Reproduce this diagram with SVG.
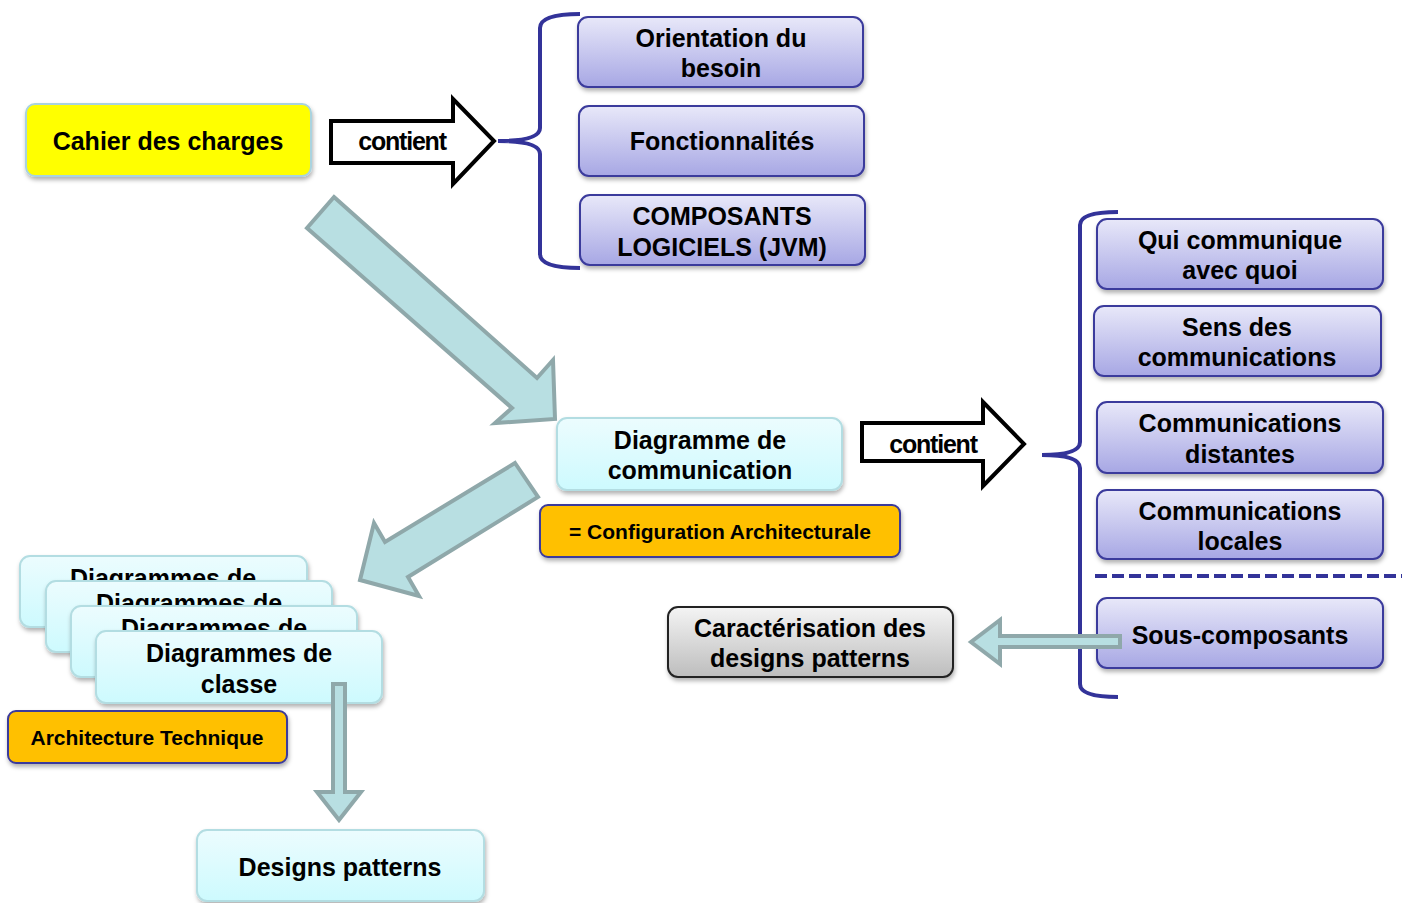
<svg xmlns="http://www.w3.org/2000/svg" width="1407" height="903" viewBox="0 0 1407 903">
<style>
text{font-family:"Liberation Sans",Arial,sans-serif;font-weight:bold;fill:#000;text-anchor:middle}
.t{font-size:25px}
.s{font-size:21px}
.c{font-size:25px;letter-spacing:-1.2px}
.purple{fill:url(#gPurple);stroke:#3a3a9c;stroke-width:2;filter:url(#sh)}
.cyan{fill:url(#gCyan);stroke:#b3dde2;stroke-width:2;filter:url(#sh)}
.orange{fill:#ffc000;stroke:#3a3a9c;stroke-width:2;filter:url(#sh)}
.big{fill:#b8dfe2;stroke:#8fa8aa;stroke-width:4;stroke-linejoin:miter}
.cont{fill:#fff;stroke:#000;stroke-width:4;stroke-linejoin:miter}
.brace{fill:none;stroke:#333399;stroke-width:4}
</style>
<defs>
<linearGradient id="gPurple" x1="0" y1="0" x2="0" y2="1">
<stop offset="0" stop-color="#e8e8f9"/><stop offset="1" stop-color="#a7a7e4"/>
</linearGradient>
<linearGradient id="gCyan" x1="0" y1="0" x2="0" y2="1">
<stop offset="0" stop-color="#ecfcfe"/><stop offset="1" stop-color="#cdfafe"/>
</linearGradient>
<linearGradient id="gGray" x1="0" y1="0" x2="0" y2="1">
<stop offset="0" stop-color="#f4f4f4"/><stop offset="1" stop-color="#bdbdbd"/>
</linearGradient>
<filter id="sh" x="-10%" y="-20%" width="120%" height="150%">
<feDropShadow dx="1" dy="3" stdDeviation="2" flood-color="#000" flood-opacity="0.3"/>
</filter>
</defs>

<g id="connectors">
<polygon class="big" points="334,197 537,378 553,360 555,419 495,423 512,408 307,228"/>
<polygon class="big" points="515,463 538,497 408,577 419,596 360,580 374,523 385,542"/>
<path class="brace" d="M580,14 Q540,14 540,28 V128 Q540,141 498,141 Q540,141 540,154 V254 Q540,268 580,268"/>
<path class="brace" d="M1118,212 Q1080,212 1080,225 V442 Q1080,455 1042,455 Q1080,455 1080,468 V684 Q1080,697 1118,697"/>
<line x1="1095" y1="576" x2="1402" y2="576" stroke="#333399" stroke-width="4" stroke-dasharray="12,5"/>
</g>

<g id="cahier">
<rect x="26" y="104" width="285" height="72" rx="9" fill="#ffff00" stroke="#a9d3df" stroke-width="2" filter="url(#sh)"/>
<text class="t" x="168" y="150">Cahier des charges</text>
</g>

<g id="contient1">
<polygon class="cont" points="331,121 453,121 453,99 494,141 453,184 453,163 331,163"/>
<text class="c" x="402" y="150">contient</text>
</g>

<g id="orientation">
<rect class="purple" x="578" y="17" width="285" height="70" rx="10"/>
<text class="t" x="721" y="47">Orientation du</text>
<text class="t" x="721" y="77">besoin</text>
</g>
<g id="fonctionnalites">
<rect class="purple" x="579" y="106" width="285" height="70" rx="10"/>
<text class="t" x="722" y="150">Fonctionnalités</text>
</g>
<g id="composants">
<rect class="purple" x="580" y="195" width="285" height="70" rx="10"/>
<text class="t" x="722" y="225">COMPOSANTS</text>
<text class="t" x="722" y="256">LOGICIELS (JVM)</text>
</g>

<g id="diagcomm">
<rect class="cyan" x="557" y="418" width="285" height="72" rx="10"/>
<text class="t" x="700" y="449">Diagramme de</text>
<text class="t" x="700" y="479">communication</text>
</g>
<g id="config">
<rect class="orange" x="540" y="505" width="360" height="52" rx="8"/>
<text class="s" x="720" y="539">= Configuration Architecturale</text>
</g>

<g id="contient2">
<polygon class="cont" points="862,423 983,423 983,402 1024,444 983,486 983,461 862,461"/>
<text class="c" x="933" y="453">contient</text>
</g>

<g id="qui">
<rect class="purple" x="1097" y="219" width="286" height="70" rx="10"/>
<text class="t" x="1240" y="249">Qui communique</text>
<text class="t" x="1240" y="279">avec quoi</text>
</g>
<g id="sens">
<rect class="purple" x="1094" y="306" width="287" height="70" rx="10"/>
<text class="t" x="1237" y="336">Sens des</text>
<text class="t" x="1237" y="366">communications</text>
</g>
<g id="distantes">
<rect class="purple" x="1097" y="402" width="286" height="71" rx="10"/>
<text class="t" x="1240" y="432">Communications</text>
<text class="t" x="1240" y="463">distantes</text>
</g>
<g id="locales">
<rect class="purple" x="1097" y="490" width="286" height="69" rx="10"/>
<text class="t" x="1240" y="520">Communications</text>
<text class="t" x="1240" y="550">locales</text>
</g>
<g id="sous">
<rect class="purple" x="1097" y="598" width="286" height="70" rx="10"/>
<text class="t" x="1240" y="644">Sous-composants</text>
</g>

<g id="arrowLeft">
<polygon class="big" points="1120,636 1000,636 1000,620 971,642 1000,664 1000,647 1120,647" stroke-width="3.5"/>
</g>

<g id="caracterisation">
<rect x="668" y="607" width="285" height="70" rx="10" fill="url(#gGray)" stroke="#222" stroke-width="2" filter="url(#sh)"/>
<text class="t" x="810" y="637">Caractérisation des</text>
<text class="t" x="810" y="667">designs patterns</text>
</g>

<g id="diagclasse">
<g>
<rect class="cyan" x="20" y="556" width="287" height="71" rx="10"/>
<text class="t" x="163" y="587">Diagrammes de</text>
</g>
<g>
<rect class="cyan" x="46" y="581" width="286" height="71" rx="10"/>
<text class="t" x="189" y="612">Diagrammes de</text>
</g>
<g>
<rect class="cyan" x="71" y="606" width="286" height="71" rx="10"/>
<text class="t" x="214" y="637">Diagrammes de</text>
</g>
<g>
<rect class="cyan" x="96" y="631" width="286" height="72" rx="10"/>
<text class="t" x="239" y="662">Diagrammes de</text>
<text class="t" x="239" y="693">classe</text>
</g>
</g>

<g id="archtech">
<rect class="orange" x="8" y="711" width="279" height="52" rx="8"/>
<text class="s" x="147" y="745">Architecture Technique</text>
</g>

<g id="arrowDown">
<polygon class="big" points="333,684 345,684 345,792 361,792 339,820 317,792 333,792" stroke-width="3.5"/>
</g>

<g id="designs">
<rect class="cyan" x="197" y="830" width="287" height="71" rx="10"/>
<text class="t" x="340" y="876">Designs patterns</text>
</g>
</svg>
